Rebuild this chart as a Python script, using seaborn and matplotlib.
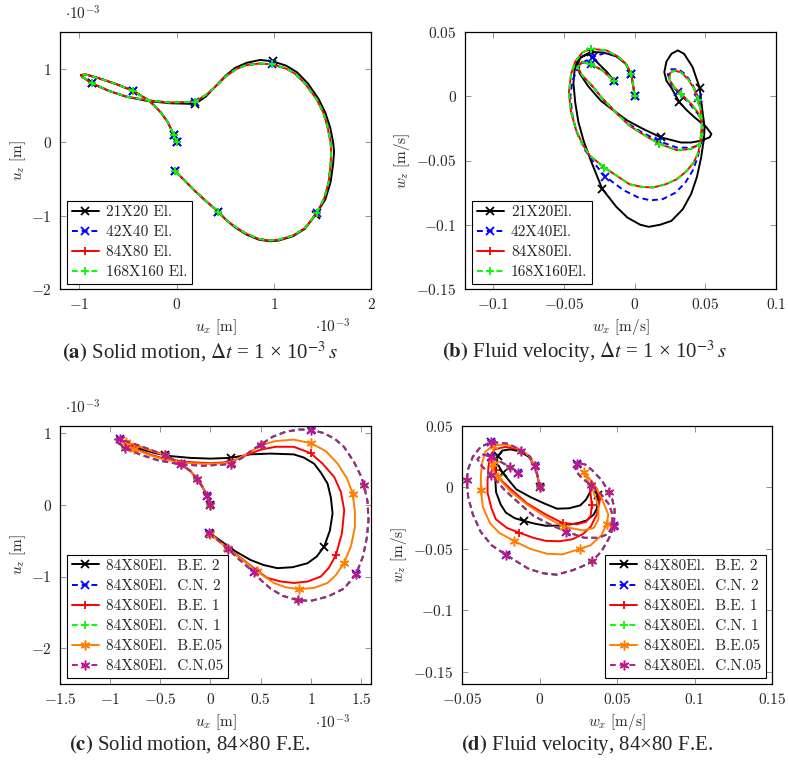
import numpy as np
import pandas as pd
import seaborn as sns
import matplotlib
matplotlib.use("Agg")
import matplotlib.pyplot as plt
from matplotlib.lines import Line2D
from matplotlib.ticker import FixedLocator, FuncFormatter

# ---------------- data: panel (a)  solid motion, values in 1e-3 m ----------------
ux_a_coarse = [0.00, -0.03, -0.09, -0.16, -0.23, -0.30, -0.45, -0.62, -0.80, -0.93, -0.985, -0.97, -0.93, -0.87,
               -0.70, -0.52, -0.30, -0.07, 0.19, 0.30, 0.40, 0.50, 0.60, 0.72, 0.86, 0.99, 1.13, 1.24, 1.35, 1.46,
               1.53, 1.58, 1.61, 1.62, 1.61, 1.585, 1.53, 1.43, 1.32, 1.20, 1.05, 0.96, 0.85, 0.72, 0.60, 0.51,
               0.43, 0.30, 0.20, 0.08, -0.02]
uz_a_coarse = [0.00, 0.10, 0.27, 0.40, 0.50, 0.58, 0.70, 0.79, 0.87, 0.92, 0.915, 0.885, 0.855, 0.80,
               0.70, 0.62, 0.56, 0.53, 0.52, 0.62, 0.76, 0.90, 1.01, 1.08, 1.12, 1.10, 1.04, 0.95, 0.80, 0.59,
               0.40, 0.20, 0.00, -0.13, -0.30, -0.54, -0.78, -0.99, -1.18, -1.28, -1.34, -1.35, -1.33, -1.26, -1.16,
               -1.06, -0.95, -0.80, -0.68, -0.52, -0.39]
ux_a_fine = [0.00, -0.03, -0.09, -0.16, -0.23, -0.30, -0.45, -0.62, -0.80, -0.93, -0.985, -0.97, -0.93, -0.87,
             -0.70, -0.52, -0.30, -0.07, 0.19, 0.31, 0.42, 0.51, 0.62, 0.72, 0.85, 0.98, 1.13, 1.22, 1.32, 1.44,
             1.51, 1.55, 1.585, 1.59, 1.585, 1.565, 1.52, 1.44, 1.32, 1.20, 1.05, 0.96, 0.85, 0.72, 0.60, 0.51,
             0.43, 0.30, 0.20, 0.08, -0.02]
uz_a_fine = [0.00, 0.10, 0.27, 0.40, 0.50, 0.58, 0.70, 0.79, 0.87, 0.92, 0.915, 0.885, 0.855, 0.80,
             0.70, 0.62, 0.57, 0.54, 0.55, 0.65, 0.78, 0.90, 1.00, 1.05, 1.07, 1.06, 1.00, 0.93, 0.80, 0.585,
             0.40, 0.22, 0.00, -0.13, -0.30, -0.54, -0.76, -0.97, -1.17, -1.27, -1.33, -1.34, -1.32, -1.25, -1.15,
             -1.06, -0.95, -0.80, -0.68, -0.52, -0.39]
marks_a = [0, 1, 6, 13, 18, 25, 37, 46, 50]

# ---------------- data: panel (b)  fluid velocity, m/s ----------------
wx_b_21 = [0.000, -0.001, -0.0024, -0.006, -0.013, -0.022, -0.031, -0.037, -0.0405, -0.0425, -0.0433, -0.042,
           -0.0398, -0.036, -0.031, -0.023, -0.013, -0.005, 0.004, 0.010, 0.018, 0.026, 0.034, 0.040, 0.044,
           0.047, 0.049, 0.0495, 0.048, 0.046, 0.041, 0.035, 0.0305, 0.026, 0.0225, 0.021, 0.0225, 0.0257,
           0.0317, 0.037, 0.0424, 0.0507, 0.0543, 0.053, 0.047, 0.040, 0.0329, 0.0186, 0.007, -0.005, -0.015,
           -0.024, -0.033, -0.039, -0.040, -0.0386, -0.0326, -0.0267, -0.0195, -0.0148]
wz_b_21 = [0.000, 0.008, 0.017, 0.025, 0.031, 0.034, 0.0345, 0.031, 0.028, 0.020, 0.010, -0.005,
           -0.020, -0.035, -0.050, -0.072, -0.086, -0.0945, -0.100, -0.1016, -0.100, -0.097, -0.088, -0.076, -0.063,
           -0.048, -0.033, -0.024, -0.012, 0.0065, 0.0227, 0.033, 0.0357, 0.033, 0.027, 0.0188, 0.012, 0.007,
           -0.0047, -0.011, -0.0164, -0.024, -0.0294, -0.032, -0.0346, -0.036, -0.036, -0.032, -0.026, -0.019, -0.011,
           -0.0034, 0.008, 0.018, 0.025, 0.030, 0.033, 0.0266, 0.0188, 0.0122]
marks_b_21 = [0, 2, 6, 15, 29, 38, 47, 59]
wx_b_42 = [0.000, -0.001, -0.0024, -0.006, -0.012, -0.020, -0.0298, -0.037, -0.041, -0.044, -0.0455, -0.044,
           -0.041, -0.035, -0.028, -0.0207, -0.008, 0.003, 0.0114, 0.020, 0.029, 0.036, 0.041, 0.0445, 0.0465,
           0.0476, 0.047, 0.045, 0.041, 0.036, 0.031, 0.026, 0.0235, 0.026, 0.031, 0.039, 0.045, 0.048, 0.0485,
           0.046, 0.040, 0.030, 0.0174, 0.005, -0.0036, -0.013, -0.0226, -0.030, -0.037, -0.0405, -0.037, -0.031,
           -0.0226, -0.0143]
wz_b_42 = [0.000, 0.008, 0.017, 0.025, 0.031, 0.034, 0.0305, 0.026, 0.020, 0.012, 0.000, -0.015,
           -0.028, -0.042, -0.053, -0.0625, -0.073, -0.079, -0.081, -0.080, -0.075, -0.067, -0.058, -0.048, -0.038,
           -0.025, -0.012, -0.001, 0.009, 0.017, 0.021, 0.021, 0.017, 0.009, 0.003, -0.006, -0.014, -0.022, -0.032,
           -0.038, -0.040, -0.040, -0.035, -0.028, -0.022, -0.013, -0.002, 0.008, 0.016, 0.0227, 0.0266, 0.025,
           0.020, 0.0117]
marks_b_42 = [0, 2, 6, 15, 27, 34, 42, 51, 53]
wx_b_fine = [0.000, -0.001, -0.0024, -0.006, -0.012, -0.020, -0.031, -0.037, -0.042, -0.045, -0.0465, -0.045,
             -0.0417, -0.037, -0.032, -0.0214, -0.0036, 0.005, 0.013, 0.022, 0.0298, 0.037, 0.0417, 0.045, 0.0464,
             0.0476, 0.047, 0.045, 0.042, 0.038, 0.033, 0.028, 0.025, 0.0245, 0.028, 0.033, 0.040, 0.045, 0.0476,
             0.048, 0.046, 0.040, 0.030, 0.0174, 0.005, -0.0036, -0.013, -0.0226, -0.030, -0.037, -0.0405, -0.037,
             -0.031, -0.0226, -0.0143]
wz_b_fine = [0.000, 0.008, 0.017, 0.025, 0.031, 0.0357, 0.037, 0.034, 0.027, 0.017, 0.003, -0.012,
             -0.0255, -0.037, -0.046, -0.0555, -0.0685, -0.0705, -0.071, -0.0685, -0.0646, -0.058, -0.0516, -0.044,
             -0.036, -0.023, -0.012, -0.003, 0.006, 0.013, 0.0185, 0.020, 0.018, 0.013, 0.007, 0.0018, -0.006,
             -0.013, -0.020, -0.030, -0.037, -0.041, -0.042, -0.037, -0.029, -0.023, -0.013, -0.002, 0.008, 0.016,
             0.0227, 0.0266, 0.025, 0.020, 0.0117]
marks_b_fine = [0, 2, 6, 15, 27, 35, 43, 52, 54]

# ---------------- data: panel (c)  solid motion 84x80, values in 1e-3 m ----------------
ux_c_be2 = [0.00, -0.03, -0.08, -0.13, -0.20, -0.29, -0.45, -0.60, -0.72, -0.78, -0.76, -0.70, -0.55, -0.40,
            -0.20, 0.00, 0.20, 0.40, 0.60, 0.83, 0.93, 1.033, 1.10, 1.167, 1.20, 1.217, 1.19, 1.133, 1.06, 0.967,
            0.82, 0.667, 0.53, 0.40, 0.25, 0.12, 0.00]
uz_c_be2 = [0.00, 0.12, 0.25, 0.36, 0.47, 0.57, 0.69, 0.76, 0.815, 0.83, 0.81, 0.78, 0.72, 0.68,
            0.655, 0.645, 0.655, 0.705, 0.715, 0.704, 0.66, 0.574, 0.45, 0.296, 0.10, -0.12, -0.36, -0.583, -0.72,
            -0.815, -0.87, -0.884, -0.84, -0.77, -0.65, -0.52, -0.40]
marks_c_be2 = [0, 6, 16, 27, 36]
ux_c_be1 = [0.00, -0.03, -0.08, -0.13, -0.20, -0.29, -0.45, -0.62, -0.76, -0.82, -0.80, -0.76, -0.60, -0.45,
            -0.25, 0.00, 0.20, 0.35, 0.50, 0.65, 0.83, 1.00, 1.12, 1.233, 1.30, 1.333, 1.31, 1.25, 1.18, 1.10,
            0.97, 0.833, 0.70, 0.567, 0.467, 0.30, 0.167, 0.08, 0.00]
uz_c_be1 = [0.00, 0.12, 0.25, 0.36, 0.47, 0.57, 0.69, 0.77, 0.83, 0.85, 0.82, 0.79, 0.70, 0.64,
            0.60, 0.58, 0.60, 0.69, 0.77, 0.81, 0.81, 0.72, 0.57, 0.389, 0.18, -0.074, -0.40, -0.70, -0.88, -1.00,
            -1.07, -1.09, -1.07, -1.02, -0.92, -0.74, -0.60, -0.50, -0.40]
marks_c_be1 = [0, 5, 11, 16, 21, 27, 34, 38]
ux_c_be05 = [0.00, -0.03, -0.08, -0.13, -0.20, -0.29, -0.45, -0.62, -0.76, -0.84, -0.87, -0.84, -0.76, -0.60,
             -0.45, -0.25, 0.00, 0.20, 0.35, 0.50, 0.65, 0.83, 1.00, 1.15, 1.27, 1.36, 1.417, 1.44, 1.44, 1.40,
             1.33, 1.25, 1.167, 1.03, 0.88, 0.75, 0.63, 0.467, 0.30, 0.167, 0.08, 0.00]
uz_c_be05 = [0.00, 0.12, 0.25, 0.36, 0.47, 0.57, 0.69, 0.77, 0.84, 0.88, 0.87, 0.84, 0.78, 0.69,
             0.63, 0.585, 0.57, 0.59, 0.70, 0.83, 0.89, 0.91, 0.86, 0.75, 0.57, 0.37, 0.157, -0.10, -0.31, -0.58,
             -0.815, -0.98, -1.09, -1.16, -1.176, -1.15, -1.09, -0.93, -0.75, -0.607, -0.50, -0.40]
marks_c_be05 = [0, 3, 5, 6, 9, 12, 17, 19, 22, 26, 30, 34, 37, 39, 41]
ux_c_cn = [0.00, -0.03, -0.08, -0.13, -0.20, -0.29, -0.45, -0.62, -0.78, -0.90, -0.95, -0.93, -0.85, -0.70,
           -0.52, -0.30, -0.07, 0.20, 0.32, 0.42, 0.50, 0.62, 0.75, 0.88, 1.00, 1.13, 1.24, 1.33, 1.43, 1.50,
           1.53, 1.565, 1.575, 1.56, 1.52, 1.45, 1.33, 1.17, 1.00, 0.87, 0.72, 0.60, 0.51, 0.43, 0.30, 0.17,
           0.08, -0.01]
uz_c_cn = [0.00, 0.12, 0.25, 0.36, 0.47, 0.57, 0.69, 0.78, 0.86, 0.915, 0.91, 0.87, 0.80, 0.70,
           0.62, 0.565, 0.545, 0.57, 0.66, 0.77, 0.84, 0.95, 1.02, 1.05, 1.05, 1.00, 0.92, 0.81, 0.60, 0.40,
           0.28, 0.05, -0.21, -0.45, -0.72, -0.97, -1.17, -1.28, -1.34, -1.33, -1.27, -1.17, -1.06, -0.94, -0.78,
           -0.61, -0.50, -0.39]
marks_c_cn2 = [1, 5, 9, 17, 24, 35, 43, 47]
marks_c_cn1 = [0, 3, 6, 12, 20, 30, 39, 45]
marks_c_cn05 = [0, 1, 3, 5, 6, 9, 12, 17, 20, 24, 30, 35, 39, 43, 45, 47]

# ---------------- data: panel (d)  fluid velocity 84x80, m/s ----------------
wx_d_be2 = [0.000, -0.001, -0.003, -0.007, -0.013, -0.019, -0.024, -0.027, -0.028, -0.0285, -0.028, -0.025,
            -0.0217, -0.016, -0.0099, -0.003, 0.0041, 0.0156, 0.025, 0.0306, 0.035, 0.037, 0.038, 0.036, 0.034,
            0.0327, 0.030, 0.0263, 0.019, 0.0113, 0.003, -0.0058, -0.015, -0.0238, -0.0265]
wz_d_be2 = [0.000, 0.008, 0.0176, 0.025, 0.0295, 0.031, 0.030, 0.0254, 0.017, 0.006, -0.004, -0.014,
            -0.0205, -0.025, -0.0273, -0.0295, -0.0312, -0.031, -0.029, -0.0268, -0.022, -0.0173, -0.0065, -0.001,
            0.0016, -0.0038, -0.010, -0.0146, -0.0170, -0.0173, -0.013, -0.0079, -0.0015, 0.0119, 0.018]
marks_d_be2 = [0, 7, 14, 22, 33]
wx_d_be1 = [0.000, -0.001, -0.003, -0.007, -0.014, -0.022, -0.029, -0.032, -0.033, -0.0335, -0.0335, -0.031,
            -0.0281, -0.021, -0.0131, -0.004, 0.0041, 0.013, 0.0212, 0.028, 0.033, 0.037, 0.039, 0.037, 0.0335,
            0.0325, 0.0338, 0.033, 0.030, 0.024, 0.0149, 0.004, -0.008, -0.018, -0.0265, -0.029, -0.030]
wz_d_be1 = [0.000, 0.008, 0.0176, 0.026, 0.031, 0.033, 0.031, 0.025, 0.016, 0.006, -0.0043, -0.017,
            -0.026, -0.033, -0.0368, -0.041, -0.0435, -0.0438, -0.0422, -0.038, -0.032, -0.022, -0.010, -0.001,
            0.0045, 0.000, -0.0146, -0.023, -0.028, -0.030, -0.029, -0.022, -0.013, -0.002, 0.008, 0.0138, 0.020]
marks_d_be1 = [0, 14, 26, 30, 35]
wx_d_be05 = [0.000, -0.001, -0.003, -0.007, -0.014, -0.022, -0.030, -0.035, -0.037, -0.0378, -0.0378, -0.0365,
             -0.032, -0.026, -0.0165, -0.006, 0.005, 0.0148, 0.0262, 0.033, 0.040, 0.0434, 0.0444, 0.040, 0.0348,
             0.0284, 0.031, 0.035, 0.038, 0.038, 0.035, 0.028, 0.0156, 0.004, -0.008, -0.019, -0.027, -0.031,
             -0.0302, -0.026]
wz_d_be05 = [0.000, 0.008, 0.0176, 0.026, 0.032, 0.035, 0.034, 0.029, 0.020, 0.010, -0.0024, -0.016,
             -0.029, -0.037, -0.0435, -0.050, -0.054, -0.0545, -0.050, -0.047, -0.039, -0.0295, -0.022, -0.0085,
             0.0035, 0.0125, 0.006, -0.004, -0.015, -0.026, -0.033, -0.035, -0.032, -0.024, -0.014, -0.003, 0.0084,
             0.016, 0.0193, 0.021]
marks_d_be05 = [0, 2, 6, 10, 14, 18, 21, 25, 32, 36, 38]
wx_d_cn = [0.000, -0.001, -0.003, -0.006, -0.0118, -0.020, -0.031, -0.038, -0.043, -0.046, -0.047, -0.046,
           -0.043, -0.038, -0.031, -0.0215, -0.0067, 0.003, 0.011, 0.0212, 0.028, 0.034, 0.040, 0.0448, 0.048,
           0.0485, 0.047, 0.045, 0.040, 0.034, 0.029, 0.0243, 0.023, 0.027, 0.033, 0.040, 0.045, 0.047, 0.047,
           0.044, 0.038, 0.029, 0.0172, 0.005, -0.004, -0.013, -0.0226, -0.031, -0.037, -0.040, -0.037, -0.031,
           -0.0193, -0.014]
wz_d_cn = [0.000, 0.008, 0.0176, 0.025, 0.030, 0.0355, 0.037, 0.033, 0.025, 0.015, 0.006, -0.008,
           -0.022, -0.036, -0.047, -0.055, -0.0665, -0.070, -0.071, -0.0675, -0.064, -0.060, -0.052, -0.0415, -0.031,
           -0.018, -0.010, -0.004, 0.006, 0.014, 0.019, 0.019, 0.014, 0.008, 0.002, -0.006, -0.014, -0.022, -0.032,
           -0.038, -0.041, -0.041, -0.036, -0.029, -0.023, -0.013, -0.002, 0.010, 0.017, 0.023, 0.027, 0.025,
           0.0168, 0.012]
marks_d_cn2 = [2, 6, 15, 24, 31, 42, 51, 53]
marks_d_cn1 = [0, 4, 10, 21, 27, 34, 47, 52]
marks_d_cn05 = [0, 2, 4, 6, 10, 15, 21, 24, 27, 31, 34, 42, 47, 51, 52, 53]

labels_a = ["21X20 El.", "42X40 El.", "84X80 El.", "168X160 El."]
labels_b = ["21X20El.", "42X40El.", "84X80El.", "168X160El."]
labels_cd = ["84X80El.  B.E. 2", "84X80El.  C.N. 2", "84X80El.  B.E. 1",
             "84X80El.  C.N. 1", "84X80El.  B.E.05", "84X80El.  C.N.05"]

# ---------------- styling ----------------
sns.set_theme(style="ticks")
plt.rcParams["font.family"] = ["Liberation Serif", "DejaVu Serif"]
plt.rcParams["mathtext.fontset"] = "cm"

BLACK, BLUE, RED, GREEN, ORANGE, MAG = "#000000", "#0000FF", "#FF0000", "#00FF00", "#FF8000", "#C0168C"
SOLID, DASH = "-", (0, (3, 2))
AST = (6, 2, 0)
LW = 1.4


def msize(marker):
    return (7.0, 1.1) if marker == AST else (5.5, 1.3)


def draw(ax, x, y, color, ls, marker, marks):
    ms, mew = msize(marker)
    sns.lineplot(x=x, y=y, ax=ax, sort=False, estimator=None, legend=False,
                 color=color, linestyle=ls, linewidth=LW, marker=marker, markevery=marks,
                 markersize=ms, markeredgecolor=color, markerfacecolor=color, markeredgewidth=mew)


def handle(color, ls, marker):
    ms, mew = msize(marker)
    return Line2D([], [], color=color, linestyle=ls, linewidth=LW, marker=marker, markersize=ms,
                  markeredgecolor=color, markerfacecolor=color, markeredgewidth=mew)


def fmt(v, pos):
    return f"${v:g}$"


def style_axes(ax, xt, yt, xlim, ylim):
    ax.set_xlim(*xlim)
    ax.set_ylim(*ylim)
    ax.xaxis.set_major_locator(FixedLocator(xt))
    ax.yaxis.set_major_locator(FixedLocator(yt))
    ax.xaxis.set_major_formatter(FuncFormatter(fmt))
    ax.yaxis.set_major_formatter(FuncFormatter(fmt))
    ax.tick_params(direction="in", length=4, width=0.6, color="#808080", top=True, right=True,
                   labelsize=11, pad=6)
    for s in ax.spines.values():
        s.set_color("black")
        s.set_linewidth(0.9)
        s.set_visible(True)
    ax.grid(False)


def legend(ax, handles, labels, loc, anchor):
    leg = ax.legend(handles, labels, loc=loc, bbox_to_anchor=anchor, borderaxespad=0, frameon=True,
                    fancybox=False, edgecolor="black", framealpha=1, prop={"family": "cmr10", "size": 11},
                    handlelength=1.8, handletextpad=0.45, borderpad=0.3, labelspacing=0.42, numpoints=1)
    leg.get_frame().set_linewidth(0.8)


def labels(ax, xl, yl, ylx, offset=False):
    ax.set_xlabel(xl, fontsize=11)
    ax.set_ylabel(yl, fontsize=11)
    ax.xaxis.set_label_coords(0.5, -0.148)
    ax.xaxis.label.set_verticalalignment("center")
    ax.yaxis.set_label_coords(ylx, 0.5)
    ax.yaxis.label.set_verticalalignment("center")
    if offset:
        ax.text(0.016, 1.035, r"$\cdot10^{-3}$", transform=ax.transAxes, ha="left", va="bottom", fontsize=11)
        ax.text(0.878, -0.148, r"$\cdot10^{-3}$", transform=ax.transAxes, ha="center", va="center", fontsize=11)


fig = plt.figure(figsize=(7.88, 7.70), dpi=100)
ax_a = fig.add_axes([60 / 788, 1 - 289 / 770, 311 / 788, 257 / 770])
ax_b = fig.add_axes([465 / 788, 1 - 289 / 770, 311 / 788, 257 / 770])
ax_c = fig.add_axes([60 / 788, 1 - 684 / 770, 311 / 788, 258 / 770])
ax_d = fig.add_axes([462 / 788, 1 - 684 / 770, 310 / 788, 258 / 770])

# (a)
draw(ax_a, ux_a_coarse, uz_a_coarse, BLACK, SOLID, "x", marks_a)
draw(ax_a, ux_a_fine, uz_a_fine, BLUE, DASH, "x", marks_a)
draw(ax_a, ux_a_fine, uz_a_fine, RED, SOLID, "+", marks_a)
draw(ax_a, ux_a_fine, uz_a_fine, GREEN, DASH, "+", marks_a)
style_axes(ax_a, [-1, 0, 1, 2], [-2, -1, 0, 1], (-1.2, 2.0), (-2.0, 1.5))
hs4 = [handle(BLACK, SOLID, "x"), handle(BLUE, DASH, "x"), handle(RED, SOLID, "+"), handle(GREEN, DASH, "+")]
legend(ax_a, hs4, labels_a, "lower left", (0.0225, 0.0195))
labels(ax_a, r"$u_x\ \mathrm{[m]}$", r"$u_z\ \mathrm{[m]}$", -0.135, offset=True)

# (b)
draw(ax_b, wx_b_21, wz_b_21, BLACK, SOLID, "x", marks_b_21)
draw(ax_b, wx_b_42, wz_b_42, BLUE, DASH, "x", marks_b_42)
draw(ax_b, wx_b_fine, wz_b_fine, RED, SOLID, "+", marks_b_fine)
draw(ax_b, wx_b_fine, wz_b_fine, GREEN, DASH, "+", marks_b_fine)
style_axes(ax_b, [-0.1, -0.05, 0, 0.05, 0.1], [-0.15, -0.1, -0.05, 0, 0.05], (-0.12, 0.1), (-0.15, 0.05))
legend(ax_b, hs4, labels_b, "lower left", (0.0225, 0.0195))
labels(ax_b, r"$w_x\ \mathrm{[m/s]}$", r"$w_z\ \mathrm{[m/s]}$", -0.203)

# (c)
draw(ax_c, ux_c_be2, uz_c_be2, BLACK, SOLID, "x", marks_c_be2)
draw(ax_c, ux_c_cn, uz_c_cn, BLUE, DASH, "x", marks_c_cn2)
draw(ax_c, ux_c_be1, uz_c_be1, RED, SOLID, "+", marks_c_be1)
draw(ax_c, ux_c_cn, uz_c_cn, GREEN, DASH, "+", marks_c_cn1)
draw(ax_c, ux_c_be05, uz_c_be05, ORANGE, SOLID, AST, marks_c_be05)
draw(ax_c, ux_c_cn, uz_c_cn, MAG, DASH, AST, marks_c_cn05)
style_axes(ax_c, [-1.5, -1, -0.5, 0, 0.5, 1, 1.5], [-2, -1, 0, 1], (-1.5, 1.6), (-2.5, 1.1))
hs6 = [handle(BLACK, SOLID, "x"), handle(BLUE, DASH, "x"), handle(RED, SOLID, "+"),
       handle(GREEN, DASH, "+"), handle(ORANGE, SOLID, AST), handle(MAG, DASH, AST)]
legend(ax_c, hs6, labels_cd, "lower left", (0.0225, 0.023))
labels(ax_c, r"$u_x\ \mathrm{[m]}$", r"$u_z\ \mathrm{[m]}$", -0.135, offset=True)

# (d)
draw(ax_d, wx_d_be2, wz_d_be2, BLACK, SOLID, "x", marks_d_be2)
draw(ax_d, wx_d_cn, wz_d_cn, BLUE, DASH, "x", marks_d_cn2)
draw(ax_d, wx_d_be1, wz_d_be1, RED, SOLID, "+", marks_d_be1)
draw(ax_d, wx_d_cn, wz_d_cn, GREEN, DASH, "+", marks_d_cn1)
draw(ax_d, wx_d_be05, wz_d_be05, ORANGE, SOLID, AST, marks_d_be05)
draw(ax_d, wx_d_cn, wz_d_cn, MAG, DASH, AST, marks_d_cn05)
style_axes(ax_d, [-0.05, 0, 0.05, 0.1, 0.15], [-0.15, -0.1, -0.05, 0, 0.05], (-0.05, 0.15), (-0.16, 0.05))
legend(ax_d, hs6, labels_cd, "lower right", (0.981, 0.023))
labels(ax_d, r"$w_x\ \mathrm{[m/s]}$", r"$w_z\ \mathrm{[m/s]}$", -0.203)

# captions
caps = [(200, 352, r"$\mathbf{(a)}$ Solid motion, $\Delta t$ = 1 × 10$^{-3}$$\,s$"),
        (585, 352, r"$\mathbf{(b)}$ Fluid velocity, $\Delta t$ = 1 × 10$^{-3}$$\,s$"),
        (190, 745, r"$\mathbf{(c)}$ Solid motion, 84×80 F.E."),
        (587, 745, r"$\mathbf{(d)}$ Fluid velocity, 84×80 F.E.")]
for cx, cy, txt in caps:
    fig.text(cx / 788, 1 - cy / 770, txt, ha="center", va="center", fontsize=15,
             family=["Liberation Serif", "DejaVu Serif"], math_fontfamily="stix")

fig.savefig("out.png", dpi=100)
